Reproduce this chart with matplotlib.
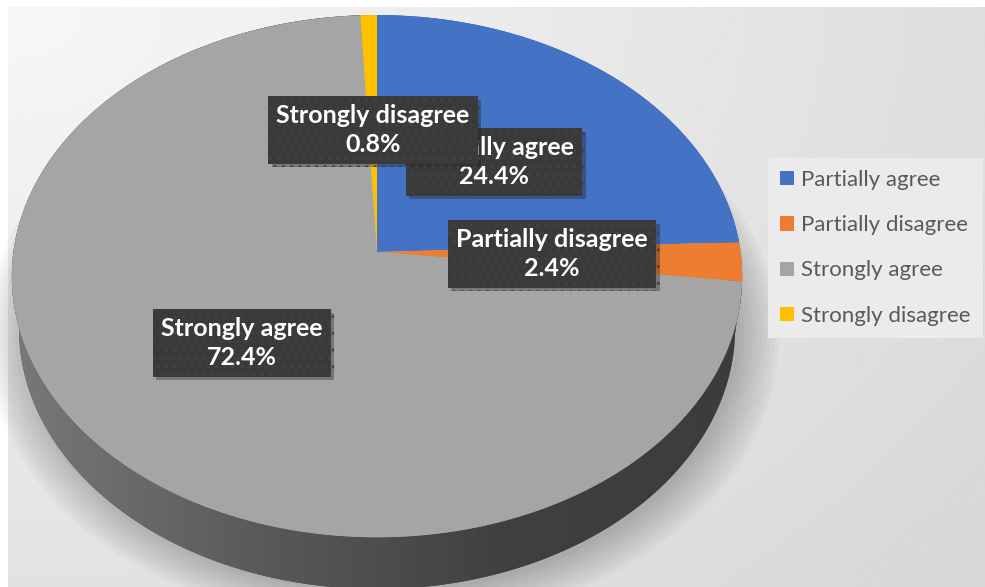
import numpy as np
import matplotlib.pyplot as plt
import matplotlib.transforms as mtransforms
import matplotlib.patheffects as pe
from matplotlib.path import Path
from matplotlib.patches import Polygon
from matplotlib.colors import LinearSegmentedColormap

categories = ['Partially agree', 'Partially disagree', 'Strongly agree', 'Strongly disagree']
shares = [24.4, 2.4, 72.4, 0.8]
colors = ['#4472C4', '#ED7D31', '#A5A5A5', '#FFC000']
side_colors = ['#2f5597', '#ae5a21', '#4a4a4a', '#bf9000']

# label box centres in pixels (layout only)
label_pos = [(494, 162), (552, 254), (242, 343), (373, 130)]

W, H = 985, 587
CX, CY = 377, 252            # pie centre on screen
PHI = np.radians(45.4)       # camera elevation
S, C = np.sin(PHI), np.cos(PHI)
D, F, DEPTH = 7.58, 2756.0, 0.21


class Tilt(mtransforms.Transform):
    """perspective view of the unit disk lying at height z"""
    input_dims = output_dims = 2
    is_separable = False
    has_inverse = False

    def __init__(self, z=0.0):
        super().__init__()
        self.z = z

    def transform_non_affine(self, values):
        xy = np.asarray(values, dtype=float).reshape(-1, 2)
        x, y = xy[:, 0], xy[:, 1]
        w = D + y * C - self.z * S
        return np.column_stack([CX + F * x / w, CY - F * (y * S + self.z * C) / w])

    def transform_path_non_affine(self, path):
        # flatten the arcs finely before bending them
        polys = path.to_polygons(transform=mtransforms.Affine2D().scale(2000),
                                 closed_only=True)
        verts = np.concatenate(polys) / 2000 if len(polys) else path.vertices
        return Path(self.transform_non_affine(verts))


fig = plt.figure(figsize=(W / 100, H / 100), dpi=100)
fig.patch.set_facecolor('white')

# background gradient
bg = fig.add_axes([8 / W, 0, 1 - 8 / W, 1 - 7 / H])
yy, xx = np.mgrid[0:H, 0:W]
r = np.hypot(xx / W, yy / H * 0.85)
bg.imshow(247 - 25 * r, cmap='gray', vmin=0, vmax=255, aspect='auto')
bg.axis('off')

ax = fig.add_axes([0, 0, 1, 1])
ax.patch.set_alpha(0)
wedges, _ = ax.pie(shares, colors=colors, startangle=90, counterclock=False,
                   wedgeprops=dict(linewidth=0))

leg = ax.legend(wedges, categories, loc='upper left', bbox_to_anchor=(768, 158),
                bbox_transform=ax.transData, frameon=True, fancybox=False,
                facecolor='#ebebeb', edgecolor='none', framealpha=1,
                prop=dict(family='Lato', size=16), labelcolor='#595959',
                handlelength=0.6, handleheight=0.6, handletextpad=0.35,
                labelspacing=1.13, borderpad=0.55, borderaxespad=0)

ax.set_aspect('auto')
ax.set_xlim(0, W)
ax.set_ylim(H, 0)
ax.axis('off')

top = Tilt(0.0)
bottom = Tilt(-DEPTH)

# soft shadow under the pie
t = np.linspace(0, 2 * np.pi, 400)
for k in range(10):
    rr = 1.0 + 0.012 * k
    pts = bottom.transform_non_affine(np.column_stack([rr * np.cos(t), rr * np.sin(t)]))
    ax.fill(pts[:, 0] + 5, pts[:, 1] + 4, color='black', alpha=0.022, lw=0, zorder=0.5)

side_cmap = LinearSegmentedColormap.from_list('side', ['#7a7a7a', '#5a5a5a', '#404040', '#3c3c3c'])

# sides of the slices
for w, sc in zip(wedges, side_colors):
    th = np.radians(np.linspace(w.theta1, w.theta2, 400))
    ring = np.column_stack([np.cos(th), np.sin(th)])
    up = top.transform_non_affine(ring)
    lo = bottom.transform_non_affine(ring)
    side = Polygon(np.vstack([up, lo[::-1]]), closed=True, fc=sc, lw=0, zorder=1)
    ax.add_patch(side)
    if sc == '#4a4a4a':
        grad = np.tile(np.linspace(0, 1, 200), (10, 1))
        im = ax.imshow(grad, cmap=side_cmap, aspect='auto',
                       extent=(0, 760, H, 0), zorder=1.5)
        im.set_clip_path(side)

for w in wedges:
    w.set_transform(top + ax.transData)
    w.set_zorder(3)

# data labels
for (x, y), cat, val in zip(label_pos, categories, shares):
    txt = ax.text(x, y, f'{cat}\n{val}%', ha='center', va='center', ma='center',
                  color='white', fontsize=18, fontweight='bold', family='Lato',
                  linespacing=1.28, zorder=5,
                  bbox=dict(boxstyle='square,pad=0.33', fc='#3a3a3a', ec='#424242',
                            lw=0, hatch='..'))
    txt.get_bbox_patch().set_path_effects(
        [pe.SimplePatchShadow(offset=(2.5, -2.5), shadow_rgbFace='#202020', alpha=0.35),
         pe.Normal()])

fig.savefig('out.png', dpi=100)
plt.close(fig)
